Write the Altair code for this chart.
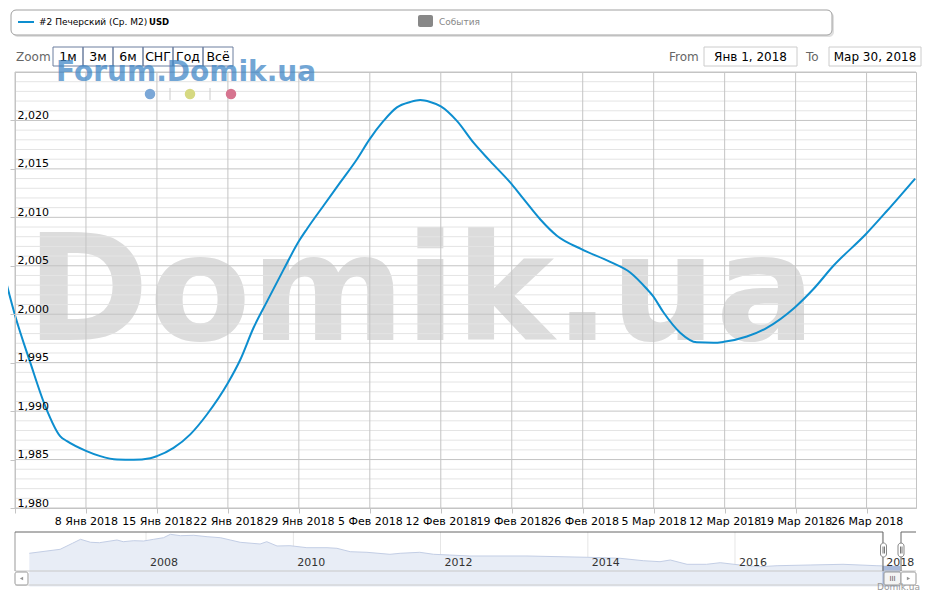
import altair as alt
import pandas as pd

# ---------------- data ----------------
# main series: days after 2018-01-01 and average price (USD per m2)
day_offsets = [-1.45, 0.03, 1.51, 2.99, 4.47, 5.13, 7.0, 8.41, 10.06, 11.7, 13.34, 14.0,
               15.64, 17.29, 18.93, 21.0, 22.22, 23.53, 24.85, 26.49, 28.04, 28.8, 30.43,
               32.08, 33.73, 34.97, 36.35, 37.67, 38.98, 39.97, 40.96, 42.01, 43.59, 45.23,
               46.87, 49.01, 50.16, 51.8, 53.45, 55.92, 58.71, 60.68, 62.33, 62.92, 63.96,
               65.61, 67.26, 68.9, 69.92, 72.19, 74.16, 76.92, 78.76, 80.73, 83.92, 86.0, 88.79]
price_usd = [2005.7, 1999.8, 1995.0, 1990.5, 1987.4, 1986.9, 1985.9, 1985.35, 1985.0, 1984.98, 1985.14, 1985.35,
             1986.2, 1987.6, 1989.65, 1992.9, 1995.3, 1998.6, 2001.3, 2004.6, 2007.6, 2008.8, 2011.2,
             2013.6, 2016.0, 2018.05, 2019.95, 2021.35, 2021.9, 2022.1, 2021.9, 2021.45, 2019.95, 2017.7,
             2015.8, 2013.4, 2011.9, 2009.8, 2008.1, 2006.7, 2005.4, 2004.3, 2002.6, 2001.9, 2000.2,
             1998.1, 1997.1, 1997.05, 1997.15, 1997.7, 1998.6, 2000.7, 2002.6, 2005.0, 2008.25, 2010.65, 2014.0]

week_ticks = ["2018-01-01", "2018-01-08", "2018-01-15", "2018-01-22", "2018-01-29", "2018-02-05",
              "2018-02-12", "2018-02-19", "2018-02-26", "2018-03-05", "2018-03-12", "2018-03-19",
              "2018-03-26"]
month_abbr = ["Янв", "Фев", "Мар", "Апр", "Май", "Июн", "Июл", "Авг", "Сен", "Окт", "Ноя", "Дек"]
y_labels = [1980, 1985, 1990, 1995, 2000, 2005, 2010, 2015, 2020]
grid_levels = list(range(1980, 2026))

# navigator (full history)
nav_dates = ["2006-06-01", "2006-11-01", "2007-01-01", "2007-02-10", "2007-04-01", "2007-05-15",
             "2007-08-10", "2007-09-10", "2007-11-01", "2007-12-20", "2008-02-08", "2008-03-28",
             "2008-05-01", "2008-06-20", "2008-08-25", "2008-10-30", "2009-01-04", "2009-02-22",
             "2009-04-12", "2009-07-20", "2009-08-22", "2009-10-12", "2009-12-15", "2010-03-09",
             "2010-06-17", "2010-08-05", "2010-10-10", "2011-01-01", "2011-04-25", "2011-06-15",
             "2011-09-20", "2011-11-28", "2012-02-15", "2012-05-25", "2013-03-05", "2014-01-01",
             "2014-06-10", "2014-10-03", "2014-12-25", "2015-02-14", "2015-05-08", "2015-08-13",
             "2015-10-20", "2016-01-25", "2016-05-05", "2016-07-28", "2017-01-08", "2017-06-20",
             "2017-12-05", "2018-01-01"]
nav_price = [3225, 3614, 4199, 4589, 4297, 4258, 4521, 4355, 4452, 4423, 4589, 4745,
             5076, 4940, 4979, 4842, 4745, 4521, 4297, 4131, 4355, 3936, 3965, 3770,
             3770, 3712, 3381, 3322, 3127, 3225, 3322, 3127, 3059, 2962, 2962, 2835,
             2737, 2504, 2406, 2572, 2153, 2153, 2309, 2085, 1919, 2016, 2085, 2153,
             2016, 2000]
sel_dates = ["2018-01-01", "2018-02-10", "2018-03-30"]
sel_price = [2000, 2021, 2014]
nav_years = ["2008", "2010", "2012", "2014", "2016", "2018"]

zoom_buttons = ["1м", "3м", "6м", "СНГ", "Год", "Всё"]
legend_series = "#2 Печерский (Ср. М2)"
legend_unit = "USD"
legend_events = "События"
range_from = "Янв 1, 2018"
range_to = "Мар 30, 2018"

LINE_BLUE = "#0d8ecf"
FONT = "DejaVu Sans"
GRID_MAJOR = "#c4c4c4"
GRID_MINOR = "#e4e4e4"


def iso(ts):
    return pd.Timestamp(ts).strftime("%Y-%m-%dT%H:%M:%SZ")


def dt(s):
    t = pd.Timestamp(s)
    return alt.DateTime(year=t.year, month=t.month, date=t.day, hours=t.hour, utc=True)


start = pd.Timestamp("2018-01-01")
line_df = pd.DataFrame({
    "date": [iso(start + pd.Timedelta(days=d)) for d in day_offsets],
    "val": price_usd,
})
grid_df = pd.DataFrame({"val": grid_levels})
vert_df = pd.DataFrame({"date": [iso(s) for s in week_ticks]})
nav_df = pd.DataFrame({"ndate": [iso(s) for s in nav_dates], "nval": nav_price})
sel_df = pd.DataFrame({"ndate": [iso(s) for s in sel_dates], "nval": sel_price})
nav_year_df = pd.DataFrame({"ndate": [iso(y + "-01-01") for y in nav_years], "label": nav_years})
one = pd.DataFrame({"k": [0]})

months_js = "[" + ",".join("'" + m + "'" for m in month_abbr) + "]"
label_expr = ("(utcmonth(datum.value) == 0 && utcdate(datum.value) == 1) ? '' : "
              "utcdate(datum.value) + ' ' + " + months_js + "[utcmonth(datum.value)] + ' ' + utcyear(datum.value)")

x_main = alt.X(
    "date:T",
    scale=alt.Scale(type="utc", domain=[dt("2018-01-01"), dt("2018-03-30 21:00")]),
    axis=alt.Axis(values=[dt(s) for s in week_ticks], labelExpr=label_expr, labelOverlap=False,
                  labelFlush=False, tickSize=5, tickColor=GRID_MAJOR, domainColor=GRID_MAJOR,
                  labelPadding=2, labelFont=FONT, labelFontSize=11, labelColor="#000",
                  grid=False, title=None),
)
y_main = alt.Y(
    "val:Q",
    scale=alt.Scale(domain=[1980, 2025], nice=False, zero=False),
    axis=alt.Axis(values=y_labels, format=",", labelAlign="left", labelBaseline="alphabetic",
                  labelPadding=-7, labelOffset=-2, tickSize=5, tickColor=GRID_MAJOR,
                  domainColor=GRID_MAJOR, labelFont=FONT, labelFontSize=11, labelColor="#000",
                  grid=False, title=None, zindex=1),
)

watermark = alt.Chart(one).mark_text(
    text="Domik.ua", font=FONT, fontSize=148, fontWeight="bold", color="#dcdcdc",
    align="center", baseline="alphabetic",
).encode(x=alt.value(406), y=alt.value(268))

minor_grid = alt.Chart(grid_df).transform_filter("datum.val % 5 != 0").mark_rule(
    color=GRID_MINOR, strokeWidth=1).encode(y=y_main)
major_grid = alt.Chart(grid_df).transform_filter("datum.val % 5 == 0").mark_rule(
    color=GRID_MAJOR, strokeWidth=1).encode(y=y_main)
vert_grid = alt.Chart(vert_df).mark_rule(color=GRID_MAJOR, strokeWidth=1).encode(x=x_main)
price_line = alt.Chart(line_df).mark_line(
    color=LINE_BLUE, strokeWidth=2, interpolate="monotone").encode(x=x_main, y=y_main)

main = alt.layer(watermark, minor_grid, major_grid, vert_grid, price_line)

# ---------------- navigator ----------------
nav_x = alt.X("ndate:T", scale=alt.Scale(type="utc", domain=[dt("2006-03-22"), dt("2018-06-17")]), axis=None)
nav_y = alt.Y("nval:Q", scale=alt.Scale(domain=[1500, 5300], range=[499, 460], nice=False, zero=False), axis=None)

nav_vgrid = alt.Chart(nav_year_df).mark_rule(color="#e6e6e6").encode(
    x=nav_x, y=alt.value(460), y2=alt.value(499))
nav_area = alt.Chart(nav_df).mark_area(color="#e8edf6").encode(x=nav_x, y=nav_y, y2=alt.value(499))
nav_top = alt.Chart(nav_df).mark_line(color="#c3cee5", strokeWidth=1).encode(x=nav_x, y=nav_y)
sel_area = alt.Chart(sel_df).mark_area(color="#a9badb").encode(x=nav_x, y=nav_y, y2=alt.value(499))
nav_labels = alt.Chart(nav_year_df).mark_text(
    align="left", baseline="middle", dx=4, font=FONT, fontSize=11, color="#333").encode(
    x=nav_x, y=alt.value(491), text="label:N")

nav = alt.layer(nav_vgrid, nav_area, nav_top, sel_area, nav_labels)


# ---------------- decorations (page furniture) ----------------
def box(x1, x2, y1, y2, **kw):
    return alt.Chart(one).mark_rect(**kw).encode(
        x=alt.value(x1), x2=alt.value(x2), y=alt.value(y1), y2=alt.value(y2))


def seg(x1, x2, y1, y2, **kw):
    return alt.Chart(one).mark_rule(**kw).encode(
        x=alt.value(x1), x2=alt.value(x2), y=alt.value(y1), y2=alt.value(y2))


def label(text, x, y, **kw):
    opts = dict(font=FONT, fontSize=12, color="#000", align="left", baseline="middle")
    opts.update(kw)
    return alt.Chart(one).mark_text(text=text, **opts).encode(x=alt.value(x), y=alt.value(y))


decor = []
# legend box
decor.append(box(-2, 819, -60, -35, fill="#000", opacity=0.12, cornerRadius=5))
decor.append(box(-4, 817, -62, -37, fill="white", stroke="#a0a0a0", strokeWidth=1, cornerRadius=5))
decor.append(seg(3, 19, -50, -50, color=LINE_BLUE, strokeWidth=2))
decor.append(label(legend_series, 24, -50, fontSize=9))
decor.append(label(legend_unit, 134, -50, fontSize=8.5, fontWeight="bold"))
decor.append(box(403, 418, -57, -45, fill="#888", cornerRadius=2))
decor.append(label(legend_events, 424, -50, fontSize=9, color="#888"))

# zoom buttons
decor.append(label("Zoom", 1, -15.5, color="#666"))
for i, b in enumerate(zoom_buttons):
    decor.append(box(38 + 30 * i, 68 + 30 * i, -25, -6, fill="white", fillOpacity=0,
                     stroke="#6d7f9f", strokeWidth=1))
    decor.append(label(b, 53 + 30 * i, -15.5, align="center", fontSize=12.5))

# forum watermark and dots
decor.append(label("Forum.Domik.ua", 41, 9, fontSize=28, fontWeight="bold", color="#3d85c6",
                   opacity=0.72, baseline="alphabetic"))
decor.append(alt.Chart(one).mark_circle(size=110, color="#7ba7d7", opacity=1).encode(x=alt.value(135), y=alt.value(22)))
decor.append(alt.Chart(one).mark_circle(size=110, color="#d6d982", opacity=1).encode(x=alt.value(175), y=alt.value(22)))
decor.append(alt.Chart(one).mark_circle(size=110, color="#d6748f", opacity=1).encode(x=alt.value(216), y=alt.value(22)))
decor.append(seg(155, 155, 16, 28, color="#cccccc"))
decor.append(seg(195, 195, 16, 28, color="#cccccc"))

# date range inputs
decor.append(label("From", 654, -15.5, color="#666"))
decor.append(box(689, 782, -25, -6, fill="white", stroke="#cccccc", strokeWidth=1))
decor.append(label(range_from, 735.5, -15.5, align="center"))
decor.append(label("To", 791, -15.5, color="#666"))
decor.append(box(814, 906, -25, -6, fill="white", stroke="#cccccc", strokeWidth=1))
decor.append(label(range_to, 860, -15.5, align="center"))

# navigator frame and scrollbar
decor.append(seg(0, 901, 499, 499, color="#c8c8c8"))
decor.append(seg(0, 901, 513, 513, color="#cccccc"))
decor.append(seg(0, 0, 460, 499, color="#999999"))
decor.append(seg(0, 868, 460, 460, color="#666666"))
decor.append(seg(868, 868, 460, 499, color="#666666"))
decor.append(seg(886, 886, 460, 499, color="#666666"))
decor.append(seg(886, 901, 460, 460, color="#666666"))
for hx in (865.5, 883):
    decor.append(box(hx, hx + 6, 471, 485, fill="white", stroke="#888888", strokeWidth=1, cornerRadius=3))
    decor.append(seg(hx + 2.5, hx + 2.5, 474.5, 481.5, color="#777777"))
    decor.append(seg(hx + 4, hx + 4, 474.5, 481.5, color="#777777"))
decor.append(box(0, 13, 500, 513, fill="white", stroke="#999999", strokeWidth=1, cornerRadius=2))
decor.append(alt.Chart(one).mark_point(shape="triangle-left", size=14, filled=True, color="#666").encode(
    x=alt.value(6.5), y=alt.value(506.5)))
decor.append(box(869, 886, 500, 513, fill="#f4f4f4", stroke="#999999", strokeWidth=1, cornerRadius=2))
decor.append(label("III", 877.5, 506.5, align="center", fontSize=7, color="#555"))
decor.append(box(886, 901, 500, 513, fill="white", stroke="#999999", strokeWidth=1, cornerRadius=2))
decor.append(alt.Chart(one).mark_point(shape="triangle-right", size=14, filled=True, color="#666").encode(
    x=alt.value(893.5), y=alt.value(506.5)))
decor.append(label("Domik.ua", 905, 518, align="right", fontSize=9, color="#999", baseline="alphabetic"))

chart = alt.layer(main, nav, *decor).resolve_scale(
    x="independent", y="independent"
).properties(
    width=901, height=436,
    autosize=alt.AutoSizeParams(type="none"),
    padding={"left": 7, "top": 64, "right": 6, "bottom": 84},
).configure_view(stroke=GRID_MAJOR)

chart.save("out.html", embed_options={"renderer": "svg", "actions": False})
